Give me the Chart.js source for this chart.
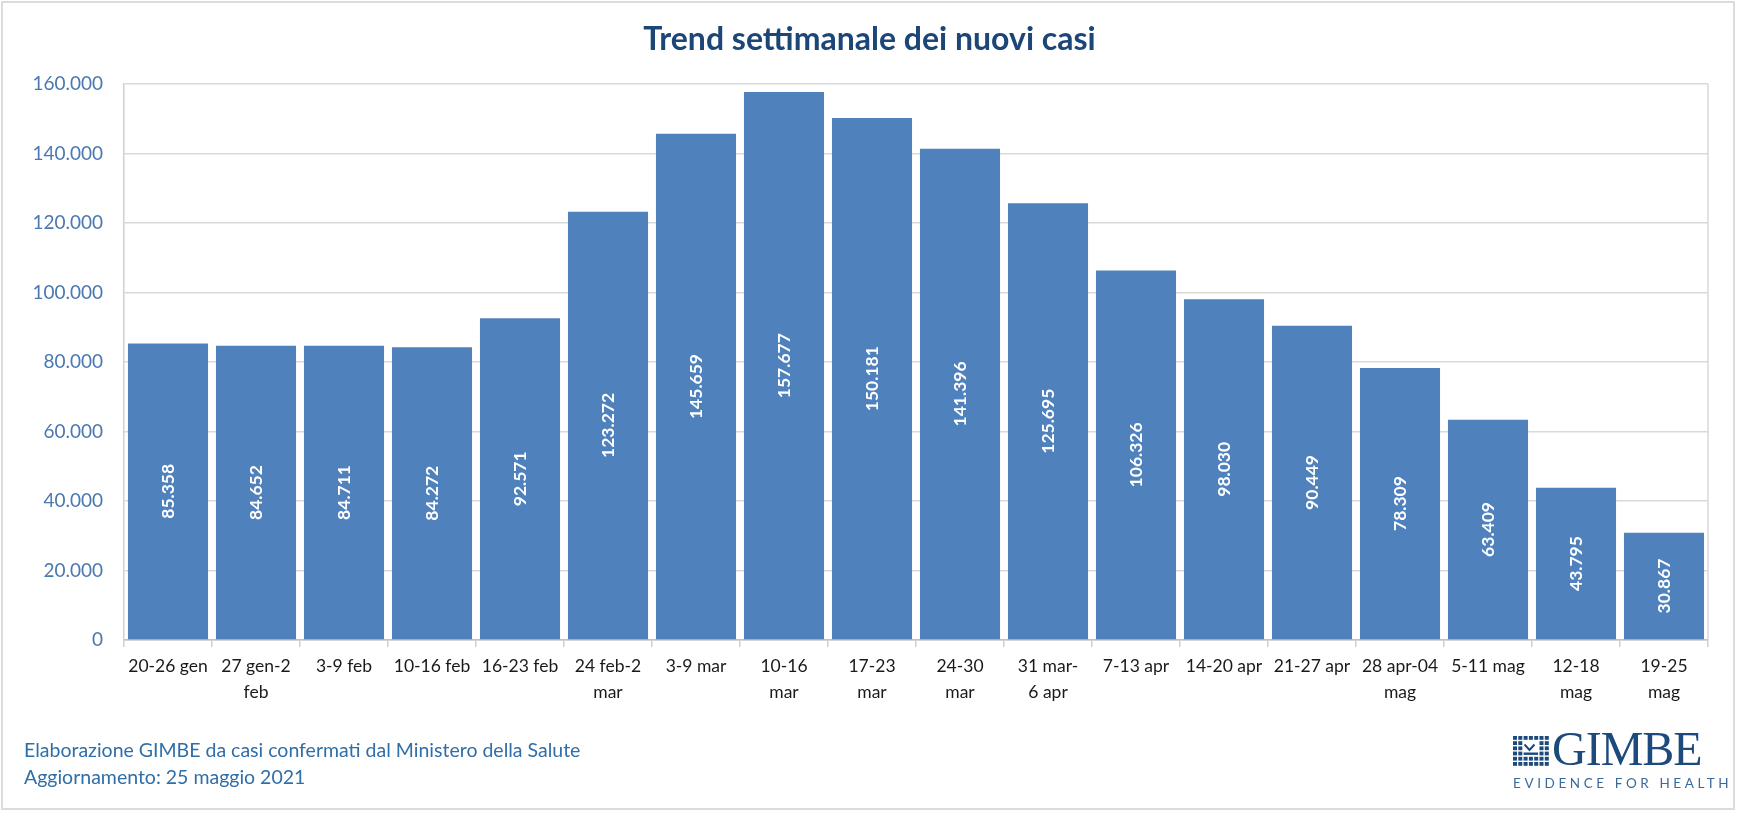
<!DOCTYPE html>
<html>
<head>
<meta charset="utf-8">
<script src="https://cdn.jsdelivr.net/npm/chart.js@4"></script>
<style>
  html, body { margin: 0; padding: 0; background: #fff; }
  #wrap { position: relative; width: 1739px; height: 815px; overflow: hidden; font-family: Lato, "Open Sans", sans-serif; }
  #frame { position: absolute; left: 1px; top: 1px; width: 1734px; height: 809px; border: 2px solid #dcdcdc; box-sizing: border-box; pointer-events: none; }
  #title { position: absolute; left: 0; width: 1739px; top: 18px; text-align: center; font-weight: bold; font-size: 32px; color: #1c4677; }
  #foot { position: absolute; left: 24px; top: 736px; font-size: 19.5px; color: #2f6ea8; line-height: 27px; }
  #logo { position: absolute; left: 1513px; top: 730px; width: 196px; }
  #logo .name { position: absolute; left: 39px; top: -9px; font-family: "Liberation Serif", "DejaVu Serif", serif; font-size: 48px; color: #1d4a7c; letter-spacing: -1px; }
  #logo .tag { position: absolute; left: 0; top: 45px; font-size: 13.5px; letter-spacing: 3.6px; color: #3a6a9c; white-space: nowrap; }
  #logo svg { position: absolute; left: 0; top: 6px; }
</style>
</head>
<body>
<div id="wrap">
  <canvas id="chart" width="1739" height="815"></canvas>
  <div id="title">Trend settimanale dei nuovi casi</div>
  <div id="foot">Elaborazione GIMBE da casi confermati dal Ministero della Salute<br>Aggiornamento: 25 maggio 2021</div>
  <div id="logo">
    <svg id="icon" width="38" height="32"></svg>
    <div class="name">GIMBE</div>
    <div class="tag">EVIDENCE FOR HEALTH</div>
  </div>
  <div id="frame"></div>
</div>
<script>
// settimane
const weeks = [
  '20-26 gen', ['27 gen-2', 'feb'], '3-9 feb', '10-16 feb', '16-23 feb',
  ['24 feb-2', 'mar'], '3-9 mar', ['10-16', 'mar'], ['17-23', 'mar'], ['24-30', 'mar'],
  ['31 mar-', '6 apr'], '7-13 apr', '14-20 apr', '21-27 apr', ['28 apr-04', 'mag'],
  '5-11 mag', ['12-18', 'mag'], ['19-25', 'mag']
];
// nuovi casi settimanali
const newCases = [
  85358, 84652, 84711, 84272, 92571, 123272, 145659, 157677, 150181,
  141396, 125695, 106326, 98030, 90449, 78309, 63409, 43795, 30867
];
const yMax = 160000;
const yStep = 20000;

const fmt = v => String(v).replace(/\B(?=(\d{3})+(?!\d))/g, '.');

// logo icon: small grid of squares
(function () {
  const svg = document.getElementById('icon');
  let s = '';
  for (let r = 0; r < 6; r++) {
    for (let c = 0; c < 7; c++) {
      const inMid = r >= 1 && r <= 3 && c >= 2 && c <= 4;
      if (inMid) continue;
      s += `<rect x="${c * 5.3}" y="${r * 5.2}" width="4" height="3.8" fill="#1d4a7c"/>`;
    }
  }
  s += '<polyline points="11.5,8.5 16.5,14 21.5,8.5" fill="none" stroke="#1d4a7c" stroke-width="2"/>';
  s += '<rect x="10.6" y="16.5" width="14.5" height="2.4" fill="#1d4a7c"/>';
  svg.innerHTML = s;
})();

const barLabels = {
  id: 'barLabels',
  afterDatasetsDraw(chart) {
    const ctx = chart.ctx;
    const meta = chart.getDatasetMeta(0);
    ctx.save();
    ctx.fillStyle = '#ffffff';
    ctx.font = 'bold 17.5px Lato, sans-serif';
    ctx.textAlign = 'center';
    ctx.textBaseline = 'middle';
    meta.data.forEach((bar, i) => {
      const cy = (bar.y + bar.base) / 2;
      ctx.save();
      ctx.translate(bar.x, cy);
      ctx.rotate(-Math.PI / 2);
      ctx.fillText(fmt(newCases[i]), 0, 0);
      ctx.restore();
    });
    ctx.restore();
  }
};

const plotFrame = {
  id: 'plotFrame',
  beforeDatasetsDraw(chart) {
    const a = chart.chartArea;
    const ctx = chart.ctx;
    ctx.save();
    ctx.strokeStyle = '#d9d9d9';
    ctx.lineWidth = 1.5;
    ctx.beginPath();
    ctx.moveTo(a.right, a.top);
    ctx.lineTo(a.right, a.bottom);
    ctx.stroke();
    ctx.restore();
  }
};

new Chart(document.getElementById('chart'), {
  type: 'bar',
  data: {
    labels: weeks,
    datasets: [{
      data: newCases,
      backgroundColor: '#4F81BD',
      borderWidth: 0,
      barPercentage: 0.91,
      categoryPercentage: 1
    }]
  },
  options: {
    responsive: false,
    animation: false,
    layout: { padding: { top: 84, right: 31, bottom: 95, left: 0 } },
    plugins: {
      legend: { display: false },
      tooltip: { enabled: false }
    },
    scales: {
      x: {
        afterFit: s => { s.height = 80; },
        grid: { drawOnChartArea: false, tickLength: 7, color: '#d0d0d0', lineWidth: 1.5 },
        border: { color: '#bfbfbf', width: 1.5 },
        ticks: {
          color: '#1a1a1a',
          maxRotation: 0,
          autoSkip: false,
          padding: 6,
          font: { family: 'Lato, sans-serif', size: 17.5, lineHeight: 1.5 }
        }
      },
      y: {
        min: 0,
        max: yMax,
        afterFit: s => { s.width = 124; },
        grid: { color: '#d9d9d9', lineWidth: 1.5, drawTicks: false },
        border: { color: '#d0d0d0', width: 1.5 },
        ticks: {
          stepSize: yStep,
          padding: 21,
          color: '#4a78b0',
          font: { family: 'Lato, sans-serif', size: 19 },
          callback: v => fmt(v)
        }
      }
    }
  },
  plugins: [barLabels, plotFrame]
});
</script>
</body>
</html>
